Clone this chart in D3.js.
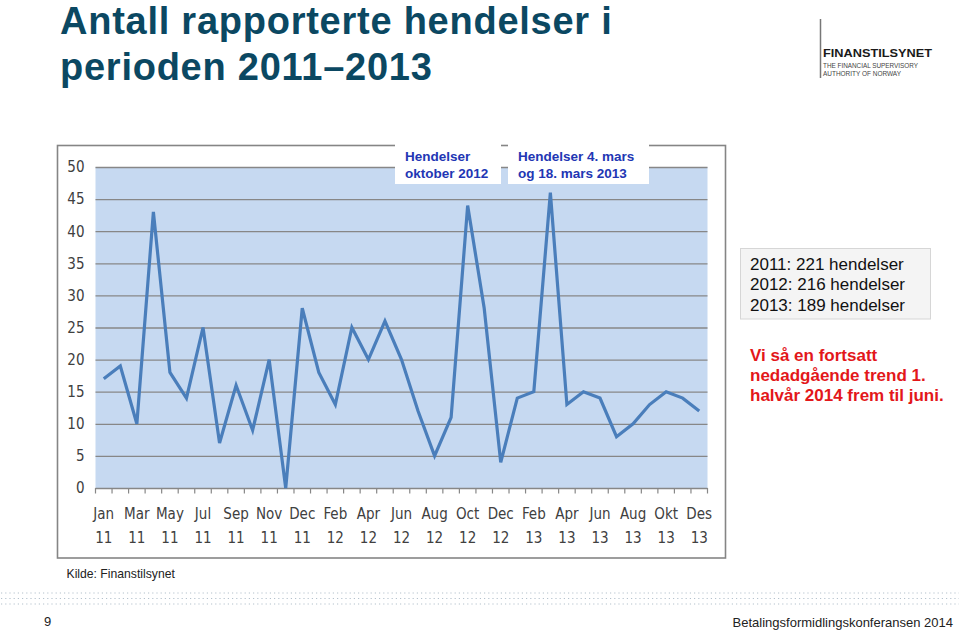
<!DOCTYPE html>
<html>
<head>
<meta charset="utf-8">
<script src="https://cdn.jsdelivr.net/npm/d3@7"></script>
<style>
  html, body { margin: 0; padding: 0; background: #fff; }
  svg { display: block; }
  .sans { font-family: "Liberation Sans", Arial, sans-serif; }
  .cond { font-family: "DejaVu Sans Condensed", "DejaVu Sans", sans-serif; font-stretch: condensed; }
</style>
</head>
<body>
<svg id="chart" width="959" height="630"></svg>
<script>
// ---- data ----
const categories = ["Jan 11","Feb 11","Mar 11","Apr 11","May 11","Jun 11","Jul 11","Aug 11","Sep 11","Oct 11","Nov 11","",
  "Dec 11","Jan 12","Feb 12","Mar 12","Apr 12","May 12","Jun 12","Jul 12","Aug 12","Sep 12","Oct 12","Nov 12","Dec 12",
  "Jan 13","Feb 13","Mar 13","Apr 13","May 13","Jun 13","Jul 13","Aug 13","Sep 13","Okt 13","Nov 13","Des 13"];
const events = [17,19,10,43,18,14,25,7,16,9,20,0,28,18,13,25,20,26,20,12,5,11,44,28,4,14,15,46,13,15,14,8,10,13,15,14,12];
const yTicks = [0,5,10,15,20,25,30,35,40,45,50];
const titleLines = ["Antall rapporterte hendelser i", "perioden 2011\u20132013"];
const callout1 = ["Hendelser", "oktober 2012"];
const callout2 = ["Hendelser 4. mars", "og 18. mars 2013"];
const yearTotals = ["2011: 221 hendelser", "2012: 216 hendelser", "2013: 189 hendelser"];
const trendNote = ["Vi så en fortsatt", "nedadgående trend 1.", "halvår 2014 frem til juni."];

const svg = d3.select("#chart");

// ---- title ----
svg.append("g").selectAll("text").data(titleLines).join("text")
  .attr("class", "sans")
  .attr("x", 60).attr("y", (d, i) => 34 + i * 46)
  .attr("font-size", 38).attr("font-weight", "bold").attr("fill", "#0b4862")
  .attr("letter-spacing", 0.75)
  .text(d => d);

// ---- logo ----
const logo = svg.append("g");
logo.append("line").attr("x1", 820.5).attr("x2", 820.5).attr("y1", 19).attr("y2", 78)
  .attr("stroke", "#777").attr("stroke-width", 1.5);
logo.append("text").attr("class", "sans").attr("x", 823).attr("y", 56.5)
  .attr("font-size", 11.5).attr("font-weight", "bold").attr("fill", "#1a1a1a")
  .attr("textLength", 109).attr("lengthAdjust", "spacingAndGlyphs").text("FINANSTILSYNET");
logo.append("text").attr("class", "sans").attr("x", 823).attr("y", 67.5)
  .attr("font-size", 7.8).attr("fill", "#444").attr("textLength", 95).attr("lengthAdjust", "spacingAndGlyphs")
  .text("THE FINANCIAL SUPERVISORY");
logo.append("text").attr("class", "sans").attr("x", 823).attr("y", 75.5)
  .attr("font-size", 7.8).attr("fill", "#444").attr("textLength", 78).attr("lengthAdjust", "spacingAndGlyphs")
  .text("AUTHORITY OF NORWAY");

// ---- chart frame ----
svg.append("rect").attr("x", 57.5).attr("y", 145.5).attr("width", 668).attr("height", 412.5)
  .attr("fill", "#fff").attr("stroke", "#858585").attr("stroke-width", 1.6);

const plot = { left: 95.5, right: 707.5, top: 167, bottom: 488 };
const x = d3.scaleBand().domain(d3.range(categories.length)).range([plot.left, plot.right]);
const y = d3.scaleLinear().domain([0, 50]).range([plot.bottom, plot.top]);

// plot background
svg.append("rect").attr("x", plot.left).attr("y", plot.top)
  .attr("width", plot.right - plot.left).attr("height", plot.bottom - plot.top)
  .attr("fill", "#c6d9f1");

// gridlines
const grid = svg.append("g").attr("transform", `translate(${plot.left},0)`)
  .call(d3.axisLeft(y).tickValues(yTicks).tickSize(-(plot.right - plot.left)).tickFormat(""));
grid.select(".domain").remove();
grid.selectAll("line").attr("stroke", "#878787").attr("stroke-width", 1.3);

// y labels
const yAxis = svg.append("g").attr("transform", `translate(${plot.left},0)`)
  .call(d3.axisLeft(y).tickValues(yTicks).tickSize(0).tickPadding(11));
yAxis.select(".domain").remove();
yAxis.selectAll("text").attr("class", "cond").attr("font-size", 15).attr("fill", "#404040")
  .attr("font-family", null);

// x axis ticks at category boundaries
svg.append("g").selectAll("line").data(d3.range(categories.length + 1)).join("line")
  .attr("x1", i => plot.left + i * x.step()).attr("x2", i => plot.left + i * x.step())
  .attr("y1", plot.bottom).attr("y2", plot.bottom + 5.5)
  .attr("stroke", "#878787").attr("stroke-width", 1.2);

// x labels (every second category)
const xl = svg.append("g").selectAll("text")
  .data(categories.map((c, i) => ({ c, i })).filter(d => d.i % 2 === 0)).join("text")
  .attr("class", "cond").attr("font-size", 15).attr("fill", "#404040")
  .attr("text-anchor", "middle");
xl.append("tspan").attr("x", d => x(d.i) + x.bandwidth() / 2).attr("y", 519).text(d => d.c.split(" ")[0]);
xl.append("tspan").attr("x", d => x(d.i) + x.bandwidth() / 2).attr("y", 542.5).text(d => d.c.split(" ")[1]);

// line
const line = d3.line().x((d, i) => x(i) + x.bandwidth() / 2).y(d => y(d));
svg.append("path").datum(events).attr("d", line)
  .attr("fill", "none").attr("stroke", "#4a7ebb").attr("stroke-width", 3.2)
  .attr("stroke-linejoin", "miter").attr("stroke-miterlimit", 4);

// ---- callouts ----
function callout(bx, bw, tx, lines) {
  const g = svg.append("g");
  g.append("rect").attr("x", bx).attr("y", 140).attr("width", bw).attr("height", 44).attr("fill", "#fff");
  g.selectAll("text").data(lines).join("text").attr("class", "sans")
    .attr("x", tx).attr("y", (d, i) => 161 + i * 17)
    .attr("font-size", 13.5).attr("font-weight", "bold").attr("fill", "#2236b4").text(d => d);
}
callout(395, 106, 405, callout1);
callout(508, 141, 518, callout2);

// ---- right notes ----
svg.append("rect").attr("x", 740.5).attr("y", 248.5).attr("width", 190).attr("height", 70.5)
  .attr("fill", "#f4f4f4").attr("stroke", "#d6d6d6").attr("stroke-width", 1);
svg.append("g").selectAll("text").data(yearTotals).join("text").attr("class", "sans")
  .attr("x", 750).attr("y", (d, i) => 269.5 + i * 20.7)
  .attr("font-size", 17).attr("fill", "#111").text(d => d);
svg.append("g").selectAll("text").data(trendNote).join("text").attr("class", "sans")
  .attr("x", 750).attr("y", (d, i) => 360.5 + i * 20)
  .attr("font-size", 17).attr("font-weight", "bold").attr("fill", "#e3171a").text(d => d);

// ---- footer ----
svg.append("text").attr("class", "sans").attr("x", 66.5).attr("y", 577.5)
  .attr("font-size", 12.2).attr("fill", "#222").text("Kilde: Finanstilsynet");
svg.append("g").selectAll("line").data([593, 598.5, 604]).join("line")
  .attr("x1", 1).attr("x2", 959).attr("y1", d => d).attr("y2", d => d)
  .attr("stroke", "#b4c1cc").attr("stroke-width", 1.2).attr("stroke-dasharray", "1.2 3");
svg.append("text").attr("class", "sans").attr("x", 44).attr("y", 626)
  .attr("font-size", 13).attr("fill", "#222").text("9");
svg.append("text").attr("class", "sans").attr("x", 953).attr("y", 627).attr("text-anchor", "end")
  .attr("font-size", 13).attr("fill", "#222").text("Betalingsformidlingskonferansen 2014");
</script>
</body>
</html>
